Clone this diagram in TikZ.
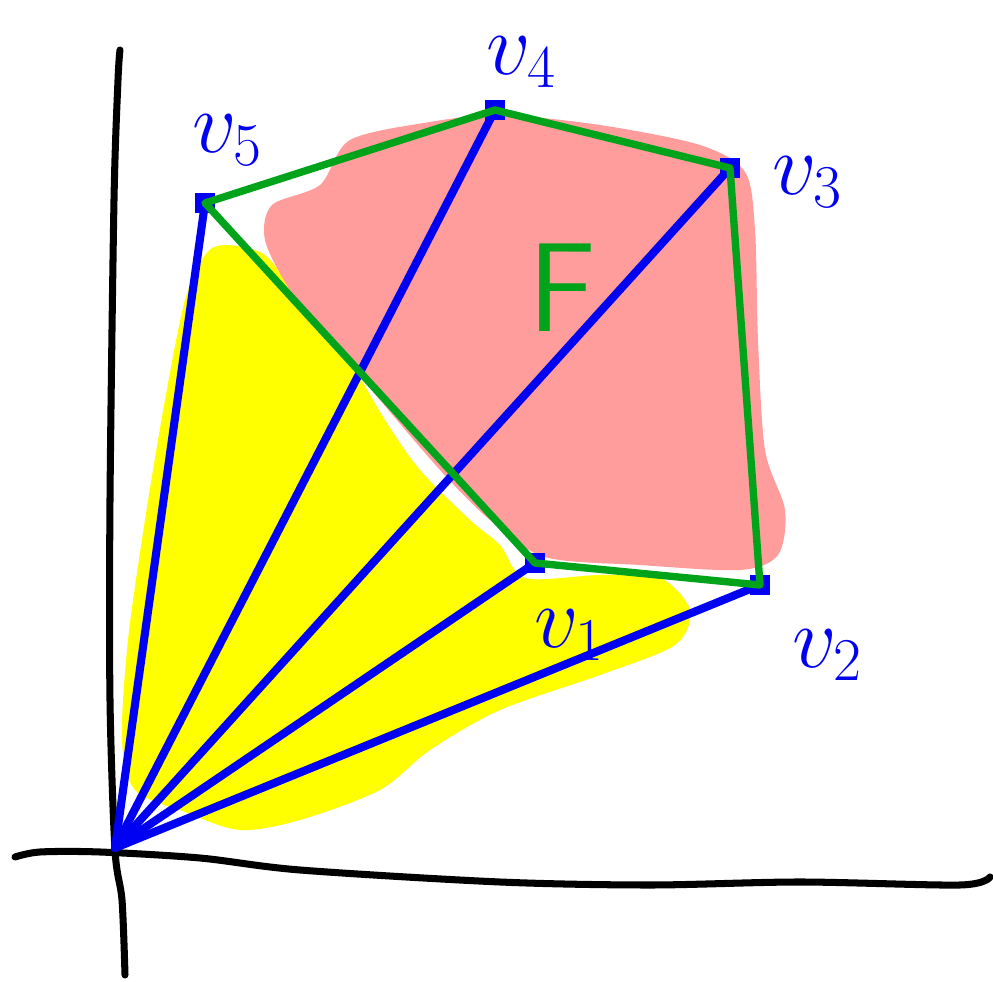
\documentclass[tikz,border=0pt]{standalone}
\usepackage{tikz}
\usetikzlibrary{positioning}
\definecolor{PenBlue}{HTML}{0000F2}
\definecolor{PenGreen}{HTML}{00A31A}
\definecolor{SoftPink}{HTML}{FF9C9C}
\definecolor{HiYellow}{HTML}{FFFF00}
\tikzset{
  axis/.style={line width=2pt,draw=black,line cap=round,line join=round},
  ray/.style={line width=2.3pt,draw=PenBlue,line cap=round},
  facet/.style={line width=2.1pt,draw=PenGreen,line cap=round,line join=round},
  corner/.style={fill=PenBlue,minimum size=2mm,inner sep=0pt},
  vlabel/.style={text=PenBlue,font=\fontsize{27}{30}\selectfont},
  flabel/.style={text=PenGreen,font=\fontsize{36}{40}\selectfont\sffamily}
}

\begin{document}
\begin{tikzpicture}[x=0.01cm,y=-0.01cm]
  \useasboundingbox (0,0) rectangle (993,982);

  % shaded regions
  \fill[HiYellow] plot[smooth cycle] coordinates {(225,245) (265,255) (300,300) (340,345) (385,420) (420,470) (470,520) (500,545) (525,578) (600,575) (660,578) (690,610) (675,645) (600,675) (500,710) (430,750) (380,790) (300,820) (240,830) (185,812) (135,790) (122,740) (128,640) (145,520) (165,400) (185,300) (205,255)};
  \fill[SoftPink] plot[smooth cycle] coordinates {(350,140) (430,122) (500,115) (600,125) (700,145) (745,172) (755,230) (758,340) (765,450) (785,510) (778,555) (740,570) (640,565) (545,557) (490,520) (440,470) (380,400) (330,340) (290,290) (265,240) (272,205) (320,185)};

  % axes
  \draw[axis] plot[smooth] coordinates {(15,857) (40,852) (100,852) (200,858) (300,870) (500,882) (650,885) (800,882) (960,885) (990,877)};
  \draw[axis] plot[smooth] coordinates {(120,50) (118,80) (114,200) (110,500) (110,700) (115,850) (122,900) (125,975)};

  % vertices
  \coordinate (o) at (115,848);
  \coordinate (v5) at (205,203);
  \coordinate (v4) at (495,110);
  \coordinate (v3) at (730,168);
  \coordinate (v2) at (760,585);
  \coordinate (v1) at (535,563);

  \draw[ray] (o) -- (v5);
  \draw[ray] (o) -- (v4);
  \draw[ray] (o) -- (v3);
  \draw[ray] (o) -- (v1);
  \draw[ray] (o) -- (v2);
  \foreach \v in {v5,v4,v3,v2,v1}
    \node[corner] at (\v) {};

  % boundary of the polygon
  \draw[facet] (v5) -- (v4) -- (v3) -- (v2) -- (v1) -- cycle;

  \node[vlabel] (l5) at (228,140) {$v_5$};
  \node[vlabel] (l4) at (522,62) {$v_4$};
  \node[vlabel] (l3) at (808,182) {$v_3$};
  \node[vlabel] (l2) at (828,655) {$v_2$};
  \node[vlabel] (l1) at (570,635) {$v_1$};
  \node[flabel] (f) at (562,288) {F};
\end{tikzpicture}
\end{document}
